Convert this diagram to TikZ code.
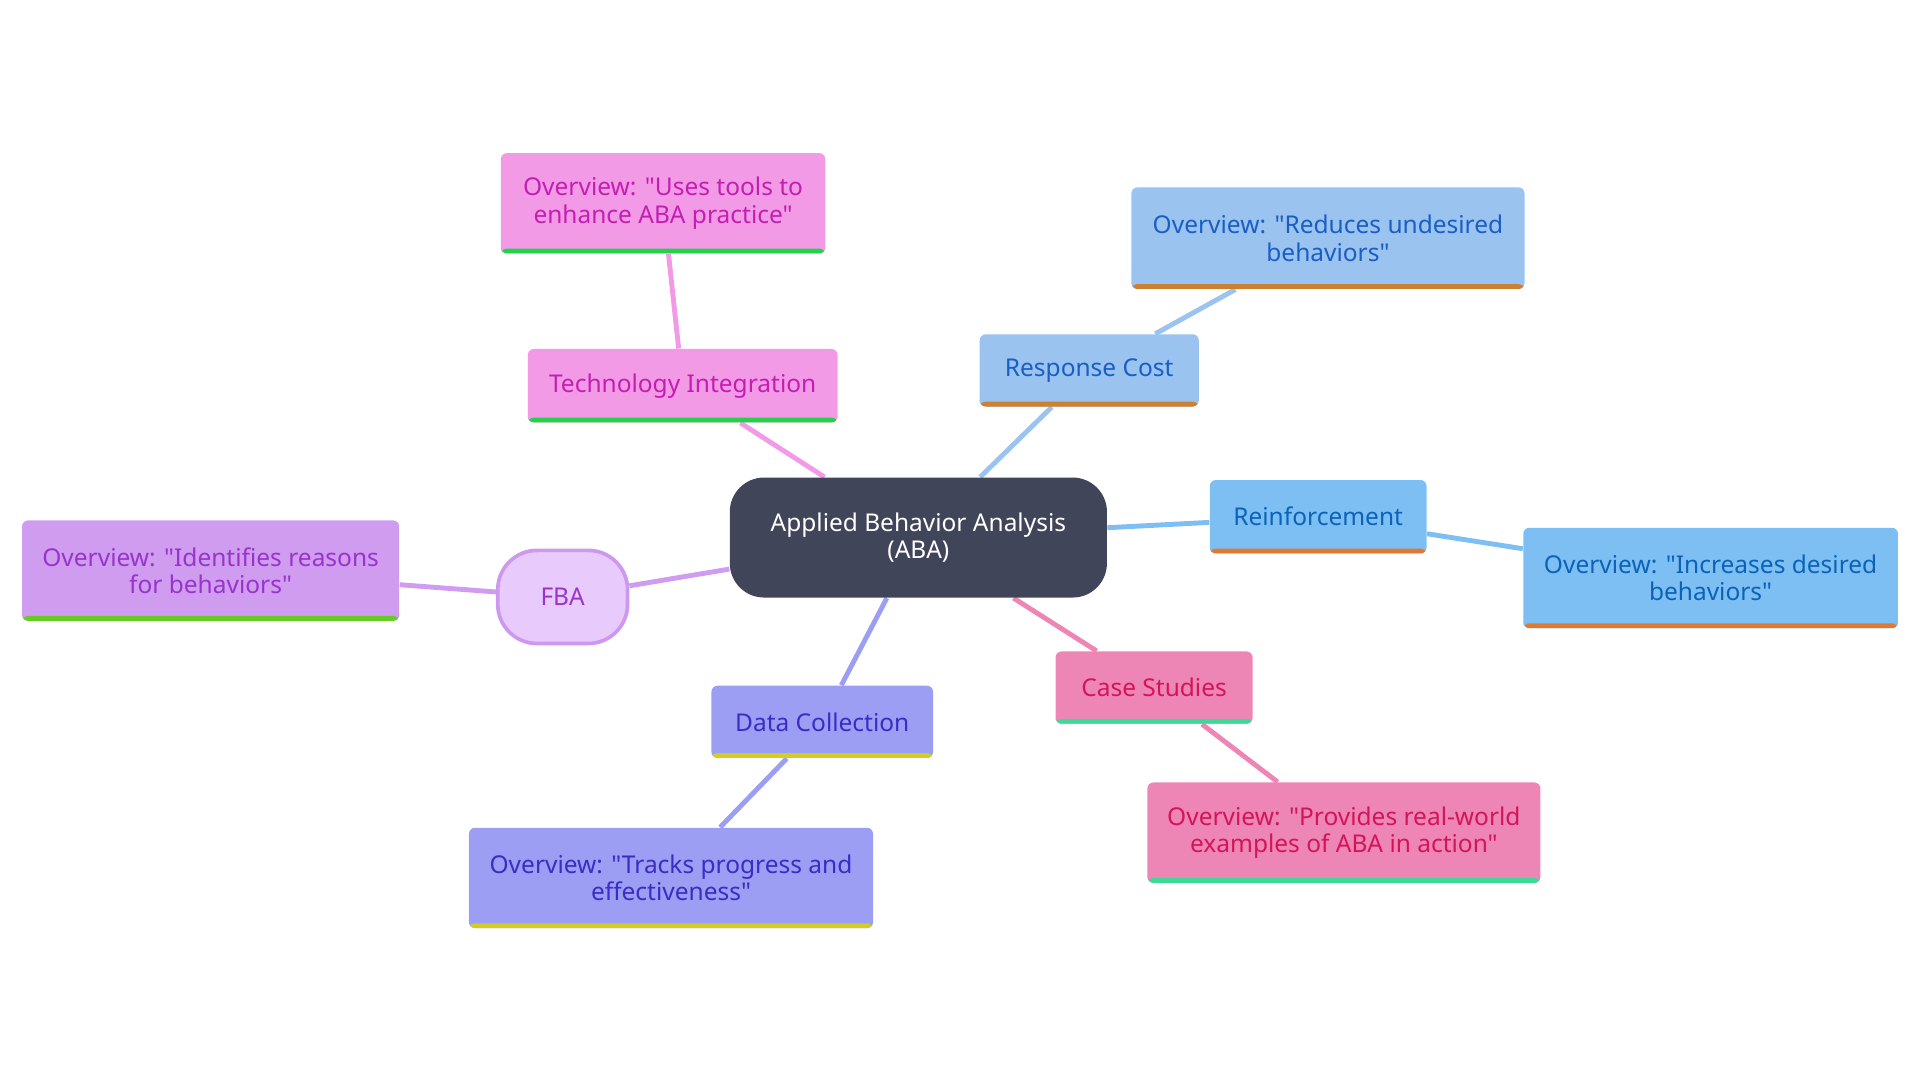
\documentclass[tikz,border=0pt]{standalone}
\usepackage{fontspec}
\setmainfont{Noto Sans}[Ligatures=TeXOff]
\usetikzlibrary{backgrounds}

\definecolor{abafill}{HTML}{414559}
\definecolor{techfill}{HTML}{F39AE6}
\definecolor{techtext}{HTML}{C41DB2}
\definecolor{techline}{HTML}{22D348}
\definecolor{rcfill}{HTML}{9AC3F0}
\definecolor{rctext}{HTML}{1A5EC4}
\definecolor{rcline}{HTML}{CC8030}
\definecolor{refill}{HTML}{7DBFF2}
\definecolor{retext}{HTML}{0A63B8}
\definecolor{reline}{HTML}{E07A30}
\definecolor{csfill}{HTML}{EE86B5}
\definecolor{cstext}{HTML}{D4145A}
\definecolor{csline}{HTML}{3BDB96}
\definecolor{dcfill}{HTML}{9B9EF2}
\definecolor{dctext}{HTML}{3A2CC4}
\definecolor{dcline}{HTML}{D4CC20}
\definecolor{fbafill}{HTML}{E8CBFC}
\definecolor{fbaborder}{HTML}{CC99EE}
\definecolor{fbatext}{HTML}{9933CC}
\definecolor{ovfbafill}{HTML}{CF9CF0}
\definecolor{fbaline}{HTML}{66CC22}

\begin{document}
\begin{tikzpicture}[
    x=0.5pt, y=-0.5pt,
    every node/.style={font=\fontsize{10}{11.2}\selectfont, align=center, inner sep=0pt},
    box/.style n args={3}{fill=#1, text=#2, rounded corners=2.5pt,
        path picture={\fill[#3] ([yshift=2pt]path picture bounding box.south west)
            rectangle (path picture bounding box.south east);}},
    branch/.style={line width=2pt, draw=#1}
]
    \useasboundingbox (0,0) rectangle (1568,882);
    \node[fill=abafill, text=white, rounded corners=14pt, minimum width=154pt, minimum height=49pt]
        (aba) at (750,439) {Applied Behavior Analysis\\(ABA)};

    \node[box={techfill}{techtext}{techline}, minimum width=126.5pt, minimum height=30pt]
        (tech) at (557.5,315) {Technology Integration};
    \node[box={techfill}{techtext}{techline}, minimum width=132.5pt, minimum height=41pt]
        (ovtech) at (541.5,166) {Overview: "Uses tools to\\enhance ABA practice"};

    \node[box={rcfill}{rctext}{rcline}, minimum width=89.5pt, minimum height=29.5pt]
        (rc) at (889.5,302.5) {Response Cost};
    \node[box={rcfill}{rctext}{rcline}, minimum width=160.5pt, minimum height=41.5pt]
        (ovrc) at (1084.5,194.5) {Overview: "Reduces undesired\\behaviors"};

    \node[box={refill}{retext}{reline}, minimum width=88.5pt, minimum height=30pt]
        (reinf) at (1076.5,422) {Reinforcement};
    \node[box={refill}{retext}{reline}, minimum width=153pt, minimum height=41pt]
        (ovreinf) at (1397,472) {Overview: "Increases desired\\behaviors"};

    \node[box={csfill}{cstext}{csline}, minimum width=80.5pt, minimum height=29.5pt]
        (cs) at (942.5,561.5) {Case Studies};
    \node[box={csfill}{cstext}{csline}, minimum width=160.5pt, minimum height=41pt]
        (ovcs) at (1097.5,680) {Overview: "Provides real-world\\examples of ABA in action"};

    \node[box={dcfill}{dctext}{dcline}, minimum width=90.5pt, minimum height=29.5pt]
        (dc) at (671.5,589.5) {Data Collection};
    \node[box={dcfill}{dctext}{dcline}, minimum width=165pt, minimum height=41pt]
        (ovdc) at (548,717) {Overview: "Tracks progress and\\effectiveness"};

    \node[fill=fbafill, draw=fbaborder, line width=1.5pt, text=fbatext, rounded corners=16pt,
        minimum width=53pt, minimum height=38pt]
        (fba) at (459.5,487.5) {FBA};
    \node[box={ovfbafill}{fbatext}{fbaline}, minimum width=154pt, minimum height=41pt]
        (ovfba) at (172,466) {Overview: "Identifies reasons\\for behaviors"};

    \begin{scope}[on background layer]
        \draw[branch=techfill] (aba) -- (tech) -- (ovtech);
        \draw[branch=rcfill] (aba) -- (rc) -- (ovrc);
        \draw[branch=refill] (aba) -- (reinf) -- (ovreinf);
        \draw[branch=csfill] (aba) -- (cs) -- (ovcs);
        \draw[branch=dcfill] (aba) -- (dc) -- (ovdc);
        \draw[branch=ovfbafill] (aba) -- (fba) -- (ovfba);
    \end{scope}
\end{tikzpicture}
\end{document}
